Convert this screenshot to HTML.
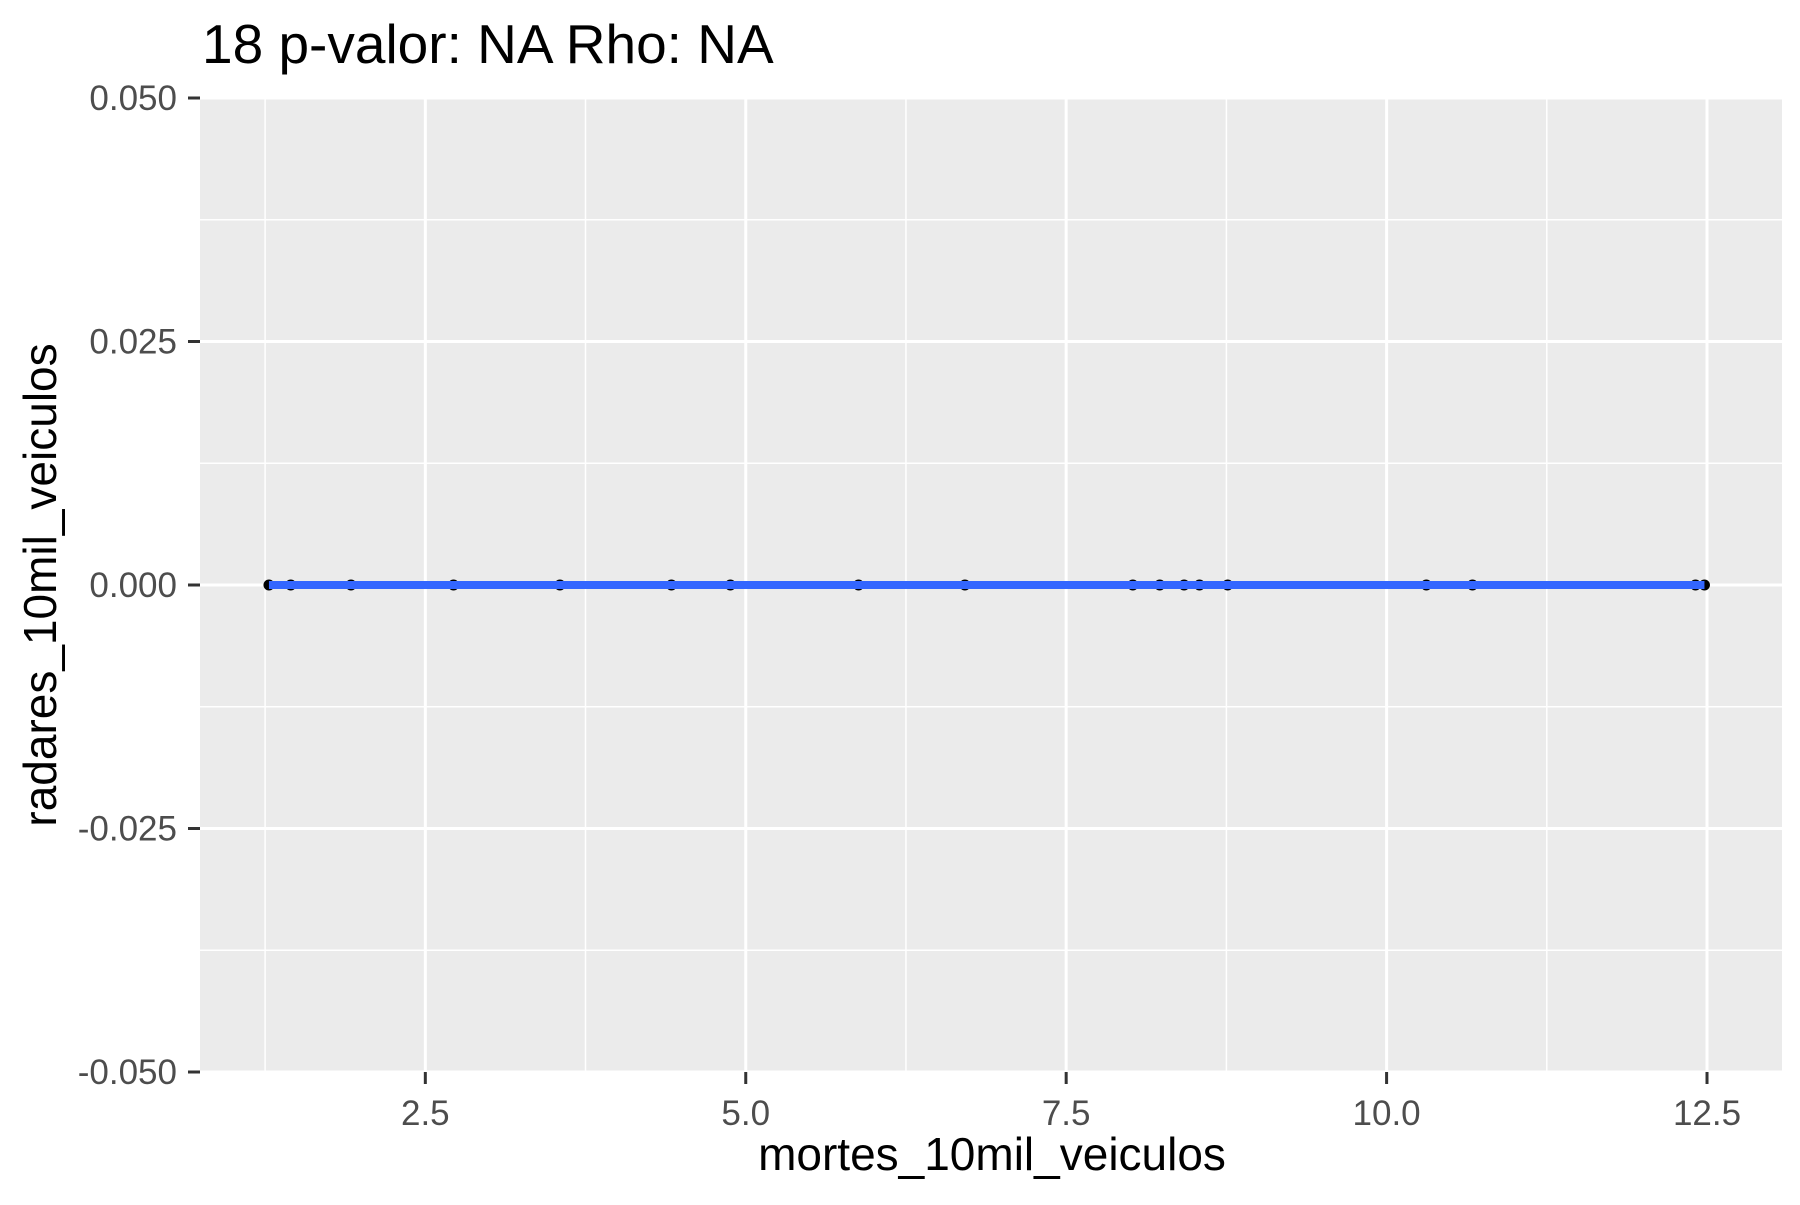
<!DOCTYPE html>
<html><head><meta charset="utf-8"><style>
html,body{margin:0;padding:0;background:#fff;}
svg text{font-family:"Liberation Sans",Arial,sans-serif;}
</style></head><body>
<svg id="chart" width="1800" height="1200" xmlns="http://www.w3.org/2000/svg">
<rect width="1800" height="1200" fill="#fff"/>
<text x="202" y="63" font-size="55" fill="#000">18 p-valor: NA Rho: NA</text>
<rect x="200" y="98" width="1582" height="974" fill="#ebebeb"/>
<g id="grid"></g>
<g id="marks"></g>
<g id="axes"></g>
<text x="992" y="1170" font-size="46" text-anchor="middle" fill="#000">mortes_10mil_veiculos</text>
<text transform="translate(56,585) rotate(-90)" font-size="46" text-anchor="middle" fill="#000">radares_10mil_veiculos</text>
</svg>
<script>
const xValues = [1.28,1.45,1.92,2.72,3.55,4.42,4.88,5.88,6.71,8.02,8.23,8.42,8.54,8.76,10.31,10.67,12.41,12.48];
const yValues = [0,0,0,0,0,0,0,0,0,0,0,0,0,0,0,0,0,0];
const xTicks = [2.5,5.0,7.5,10.0,12.5];
const xTickLabels = ["2.5","5.0","7.5","10.0","12.5"];
const yTicks = [-0.05,-0.025,0,0.025,0.05];
const yTickLabels = ["-0.050","-0.025","0.000","0.025","0.050"];
const fitY = [0,0];

const PL=200, PR=1782, PT=98, PB=1072;
const XMIN=0.742, XMAX=13.085, YMIN=-0.05, YMAX=0.05;
function sx(v){return PL+(v-XMIN)/(XMAX-XMIN)*(PR-PL);}
function sy(v){return PB-(v-YMIN)/(YMAX-YMIN)*(PB-PT);}
const NS="http://www.w3.org/2000/svg";
function mk(tag,attrs,parent){const e=document.createElementNS(NS,tag);for(const k in attrs)e.setAttribute(k,attrs[k]);parent.appendChild(e);return e;}
const grid=document.getElementById('grid'), marks=document.getElementById('marks'), axes=document.getElementById('axes');
for(let i=0;i<xTicks.length+1;i++){
  const v=(i===0)?xTicks[0]-(xTicks[1]-xTicks[0])/2:(xTicks[i-1]+(xTicks[1]-xTicks[0])/2);
  if(v<XMIN||v>XMAX)continue;
  const l=mk('line',{x1:sx(v),x2:sx(v),y1:PT,y2:PB,stroke:'#fff','stroke-width':1.5},grid);
  
  
}
for(let i=0;i<yTicks.length-1;i++){
  const v=(yTicks[i]+yTicks[i+1])/2;
  const l=mk('line',{x1:PL,x2:PR,y1:sy(v),y2:sy(v),stroke:'#fff','stroke-width':1.5},grid);
  
  
}
xTicks.forEach((v,i)=>{
  const l=mk('line',{x1:sx(v),x2:sx(v),y1:PT,y2:PB,stroke:'#fff','stroke-width':3},grid);
  
  
  const t=mk('line',{x1:sx(v),x2:sx(v),y1:PB,y2:PB+12,stroke:'#333','stroke-width':3},axes);
  
  
  const tx=mk('text',{x:sx(v),y:PB+53,'font-size':35,'text-anchor':'middle',fill:'#4d4d4d'},axes);
  tx.textContent=xTickLabels[i];
  
  
});
yTicks.forEach((v,i)=>{
  const l=mk('line',{x1:PL,x2:PR,y1:sy(v),y2:sy(v),stroke:'#fff','stroke-width':3},grid);
  
  
  const t=mk('line',{x1:PL-12,x2:PL,y1:sy(v),y2:sy(v),stroke:'#333','stroke-width':3},axes);
  
  
  const tx=mk('text',{x:PL-23,y:sy(v)+12,'font-size':35,'text-anchor':'end',fill:'#4d4d4d'},axes);
  tx.textContent=yTickLabels[i];
  
  
});
xValues.forEach((v,i)=>{
  const c=mk('circle',{cx:sx(v),cy:sy(yValues[i]),r:5.5,fill:'#000'},marks);
  
  
});
const xmn=Math.min(...xValues), xmx=Math.max(...xValues);
const fl=mk('line',{x1:sx(xmn),x2:sx(xmx),y1:sy(fitY[0]),y2:sy(fitY[1]),stroke:'#3366ff','stroke-width':8},marks);


</script>
</body></html>
